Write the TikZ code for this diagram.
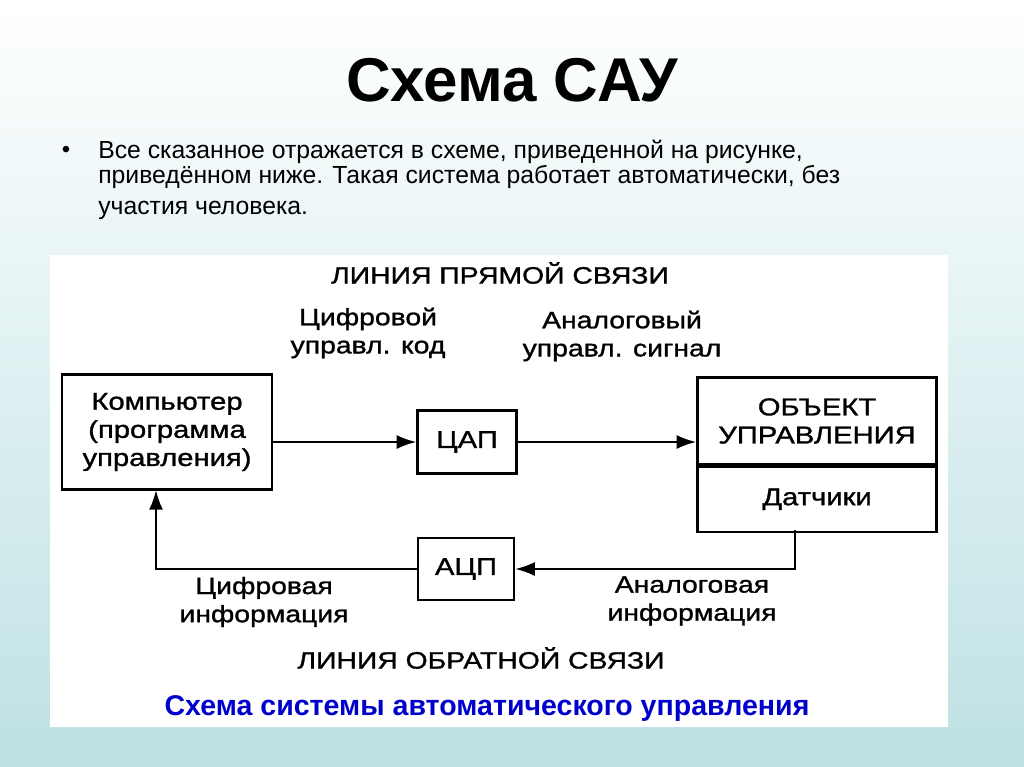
\documentclass[tikz,border=0pt]{standalone}
\usepackage{fontspec}
\setmainfont{Liberation Sans}
\newfontfamily\schemefont[FakeStretch=1.2,FakeBold=1.2]{Liberation Sans}
\usetikzlibrary{arrows.meta,positioning}

\definecolor{slidebottom}{RGB}{190,225,228}
\definecolor{captionblue}{RGB}{0,0,204}

\tikzset{
  block/.style={draw,line width=1.6pt,rectangle,inner sep=0pt,align=center,
    font=\schemefont\fontsize{17.3}{20}\selectfont},
  tag/.style={align=center,font=\schemefont\fontsize{16.8}{20}\selectfont},
  link/.style={line width=1.6pt,-{Latex[length=14pt,width=10pt]}}
}

\begin{document}
\begin{tikzpicture}[x=0.025cm,y=-0.025cm]
  % slide background
  \shade[top color=white,bottom color=slidebottom] (0,0) rectangle (1024,767);
  \useasboundingbox (0,0) rectangle (1024,767);
  \fill[white] (50,255) rectangle (948,727);

  \node (title) [anchor=base] at (512,102)
    {\bfseries\fontsize{44}{50}\selectfont Схема САУ};
  \node (dot) [anchor=base] at (66,158) {\fontsize{17}{20}\selectfont •};
  \node (intro) [anchor=north west,align=left,inner sep=0pt,
    font=\fontsize{17.6}{18}\selectfont] at (98,140)
    {Все сказанное отражается в схеме, приведенной на рисунке,\\
     приведённом ниже. Такая система работает автоматически, без\\[4pt]
     участия человека.};

  % blocks
  \node (comp) [block,minimum width=5.25cm,minimum height=2.875cm] at (167,432)
    {Компьютер\\(программа\\управления)};
  \node (dac) [block,minimum width=2.475cm,minimum height=1.575cm] at (467,442) {ЦАП};
  \node (obj) [block,minimum width=5.975cm,minimum height=2.175cm] at (817,421)
    {ОБЪЕКТ\\УПРАВЛЕНИЯ};
  \node (sens) [block,minimum width=5.975cm,minimum height=1.625cm,below=0pt of obj]
    {Датчики};
  \node (adc) [block,minimum width=2.4cm,minimum height=1.55cm] at (466,569) {АЦП};

  \coordinate (tap) at (795,530);
  \coordinate (ret) at (156,490);

  % labels
  \node (fwd) [tag] at (500,273) {ЛИНИЯ ПРЯМОЙ СВЯЗИ};
  \node (dcode) [tag] at (368,333) {Цифровой\\управл. код};
  \node (asig) [tag] at (622,336) {Аналоговый\\управл. сигнал};
  \node (dinfo) [tag] at (264,602) {Цифровая\\информация};
  \node (ainfo) [tag] at (692,601) {Аналоговая\\информация};
  \node (back) [tag] at (481,658) {ЛИНИЯ ОБРАТНОЙ СВЯЗИ};
  \node (caption) [text=captionblue] at (487,708)
    {\bfseries\fontsize{20.3}{22}\selectfont Схема системы автоматического управления};

  % connections
  \draw[link] (comp.east |- dac.west) -- (dac.west);
  \draw[link] (dac.east) -- (dac.east -| obj.west);
  \draw[link] (tap) |- (adc.east);
  \draw[link] (adc.west) -| (ret);
\end{tikzpicture}
\end{document}
